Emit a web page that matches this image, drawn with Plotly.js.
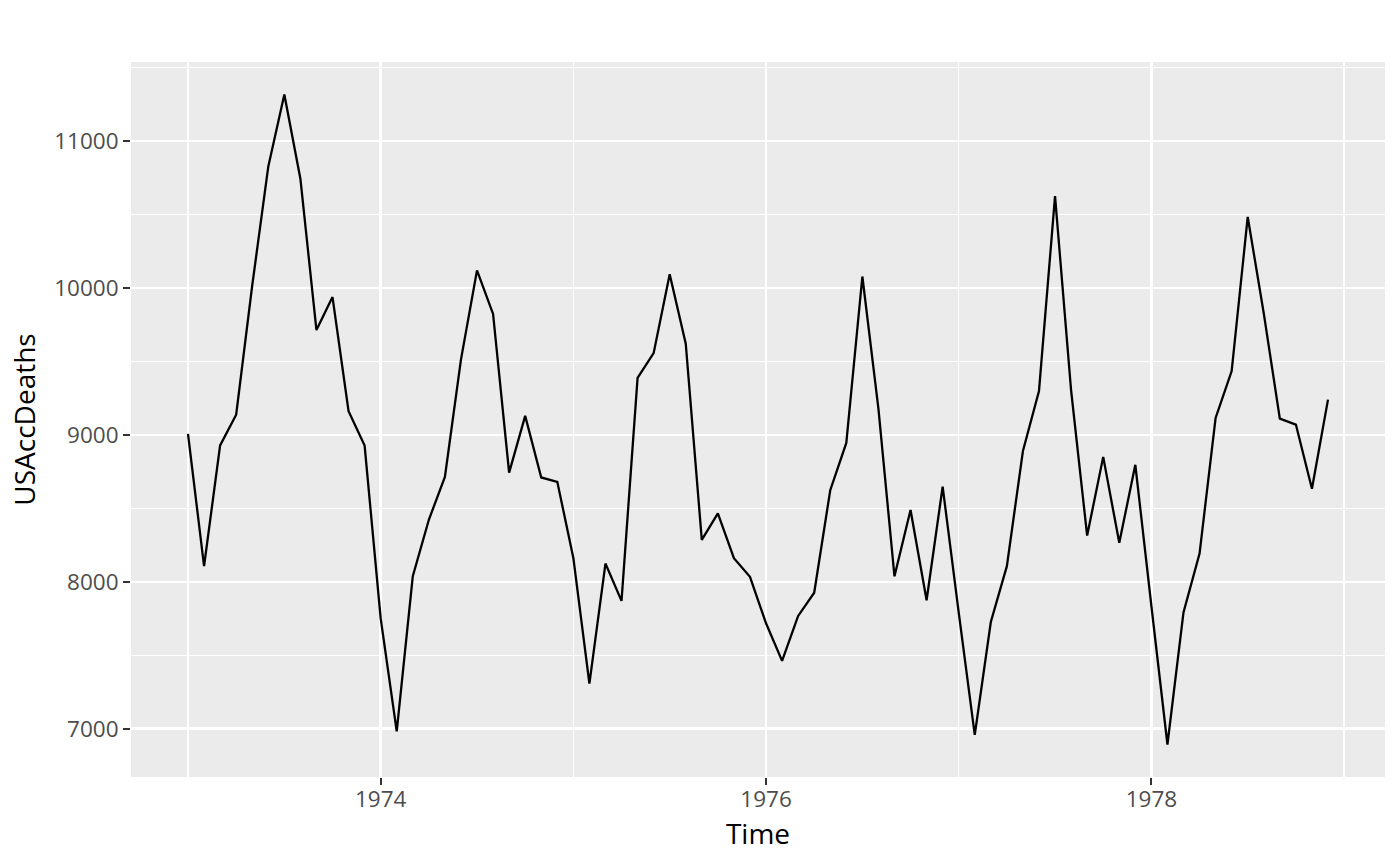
<!DOCTYPE html>
<html>
<head>
<meta charset="utf-8">
<script src="https://cdn.plot.ly/plotly-3.0.1.min.js"></script>
<style>
  html, body { margin: 0; padding: 0; background: #ffffff; }
  #plot { width: 1400px; height: 866px; }
</style>
</head>
<body>
<div id="plot"></div>
<script>
// monthly accidental deaths, USA, 1973-1978
var startYear = 1973;
var deaths1973 = [9007, 8106, 8928, 9137, 10017, 10826, 11317, 10744, 9713, 9938, 9161, 8927];
var deaths1974 = [7750, 6981, 8038, 8422, 8714, 9512, 10120, 9823, 8743, 9129, 8710, 8680];
var deaths1975 = [8162, 7306, 8124, 7870, 9387, 9556, 10093, 9620, 8285, 8466, 8160, 8034];
var deaths1976 = [7717, 7461, 7767, 7925, 8623, 8945, 10078, 9179, 8037, 8488, 7874, 8647];
var deaths1977 = [7792, 6957, 7726, 8106, 8890, 9299, 10625, 9302, 8314, 8850, 8265, 8796];
var deaths1978 = [7836, 6892, 7791, 8192, 9115, 9434, 10484, 9827, 9110, 9070, 8633, 9240];

var xTicks = [1974, 1976, 1978];
var xMinor = [1973, 1975, 1977, 1979];
var yTicks = [7000, 8000, 9000, 10000, 11000];
var yMinor = [7500, 8500, 9500, 10500, 11500];

var yVals = [].concat(deaths1973, deaths1974, deaths1975, deaths1976, deaths1977, deaths1978);
var tVals = [];
for (var i = 0; i < yVals.length; i++) {
  tVals.push(startYear + i / 12);
}

// ggplot-like 5% expansion
function expand(lo, hi) {
  var d = (hi - lo) * 0.05;
  return [lo - d, hi + d];
}
var xr = expand(Math.min.apply(null, tVals), Math.max.apply(null, tVals));
var yr = expand(Math.min.apply(null, yVals), Math.max.apply(null, yVals));

var trace = {
  x: tVals,
  y: yVals,
  type: 'scatter',
  mode: 'lines',
  line: {color: '#000000', width: 2.3},
  hoverinfo: 'x+y'
};

var tickFont = {family: 'Open Sans, sans-serif', size: 22.5, color: '#4D4D4D'};
var titleFont = {family: 'Open Sans, sans-serif', size: 28, color: '#000000'};

var layout = {
  width: 1400,
  height: 866,
  margin: {l: 131, r: 15, t: 62, b: 89},
  paper_bgcolor: '#ffffff',
  plot_bgcolor: '#EBEBEB',
  showlegend: false,
  xaxis: {
    range: xr,
    tickmode: 'array',
    tickvals: xTicks,
    ticktext: xTicks.map(String),
    ticks: 'outside',
    ticklen: 7,
    tickwidth: 2.2,
    tickcolor: '#333333',
    tickfont: tickFont,
    ticklabelstandoff: -5,
    showgrid: true,
    gridcolor: '#ffffff',
    gridwidth: 2.4,
    minor: {tickmode: 'array', tickvals: xMinor, showgrid: true, gridcolor: '#ffffff', gridwidth: 1.2, ticks: ''},
    zeroline: false,
    showline: false,
    title: {text: 'Time', font: titleFont, standoff: 4}
  },
  yaxis: {
    range: yr,
    tickmode: 'array',
    tickvals: yTicks,
    ticktext: yTicks.map(String),
    ticks: 'outside',
    ticklen: 7,
    tickwidth: 2.2,
    tickcolor: '#333333',
    tickfont: tickFont,
    showgrid: true,
    gridcolor: '#ffffff',
    gridwidth: 2.4,
    minor: {tickmode: 'array', tickvals: yMinor, showgrid: true, gridcolor: '#ffffff', gridwidth: 1.2, ticks: ''},
    zeroline: false,
    showline: false,
    title: {text: 'USAccDeaths', font: titleFont, standoff: 10}
  }
};

Plotly.newPlot('plot', [trace], layout, {displayModeBar: false, staticPlot: true});
</script>
</body>
</html>
